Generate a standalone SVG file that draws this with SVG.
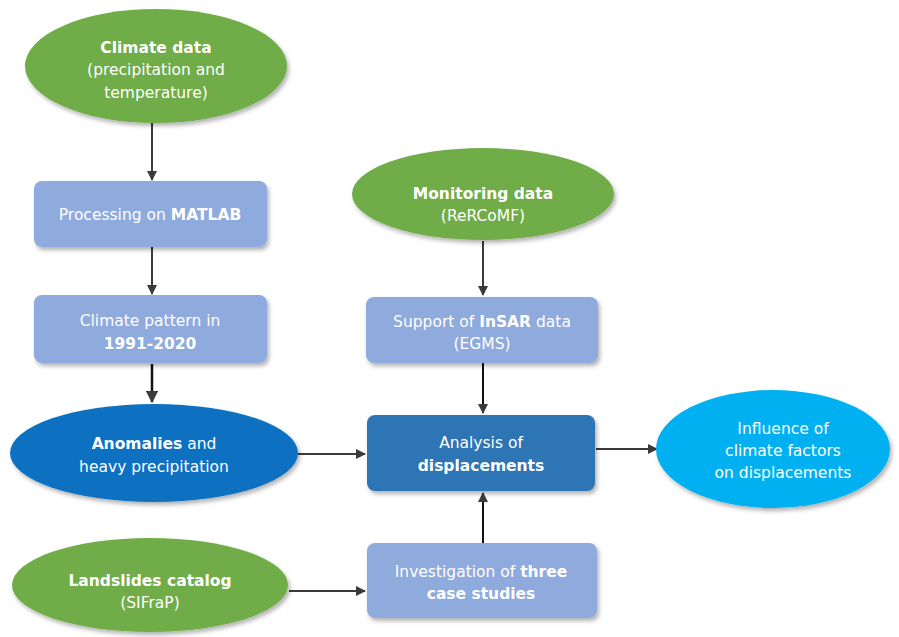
<svg xmlns="http://www.w3.org/2000/svg" width="899" height="637" viewBox="0 0 899 637">
<defs>
<marker id="ah" viewBox="0 0 10 10" refX="9" refY="5" markerWidth="5" markerHeight="5" orient="auto" markerUnits="strokeWidth">
<path d="M0,0 L10,5 L0,10 z" fill="#3a3a3a"/>
</marker>
<filter id="sh" x="-10%" y="-10%" width="125%" height="130%">
<feDropShadow dx="2" dy="3" stdDeviation="2" flood-color="#000" flood-opacity="0.3"/>
</filter>
</defs>
<style>
text{font-family:"DejaVu Sans","Liberation Sans",sans-serif;font-size:15.5px;fill:#fff;text-anchor:middle}
.b{font-weight:bold}
.green{fill:#6fac46}
.lb{fill:#8faadc}
.conn line{stroke:#3a3a3a;stroke-width:2;marker-end:url(#ah)}
</style>
<rect width="899" height="637" fill="#fff"/>
<g class="conn">
<line x1="152" y1="123" x2="152" y2="180"/>
<line x1="152" y1="247" x2="152" y2="294"/>
<line x1="152" y1="364" x2="152" y2="402" style="stroke-width:2.5;stroke:#111"/>
<line x1="483" y1="241" x2="483" y2="295"/>
<line x1="483" y1="363" x2="483" y2="413" style="stroke:#111"/>
<line x1="298" y1="454" x2="365" y2="454"/>
<line x1="596" y1="449" x2="657" y2="449"/>
<line x1="483" y1="543" x2="483" y2="493" style="stroke:#111"/>
<line x1="289" y1="591" x2="365" y2="591"/>
</g>
<g id="climate-data">
<ellipse cx="156" cy="66" rx="131" ry="57" class="green" filter="url(#sh)"/>
<text x="156" y="53" class="b">Climate data</text>
<text x="156" y="75">(precipitation and</text>
<text x="156" y="98">temperature)</text>
</g>
<g id="processing">
<rect x="34" y="181" width="233" height="66" rx="8" class="lb" filter="url(#sh)"/>
<text x="150" y="220">Processing on <tspan class="b">MATLAB</tspan></text>
</g>
<g id="climate-pattern">
<rect x="34" y="295" width="233" height="68" rx="8" class="lb" filter="url(#sh)"/>
<text x="150" y="326">Climate pattern in</text>
<text x="150" y="349" class="b">1991-2020</text>
</g>
<g id="monitoring-data">
<ellipse cx="483" cy="194" rx="131" ry="46" class="green" filter="url(#sh)"/>
<text x="483" y="199" class="b">Monitoring data</text>
<text x="483" y="221">(ReRCoMF)</text>
</g>
<g id="insar">
<rect x="366" y="297" width="232" height="66" rx="8" class="lb" filter="url(#sh)"/>
<text x="482" y="327">Support of <tspan class="b">InSAR</tspan> data</text>
<text x="482" y="349">(EGMS)</text>
</g>
<g id="anomalies">
<ellipse cx="154" cy="453" rx="144" ry="49" fill="#0b6fc0" filter="url(#sh)"/>
<text x="154" y="449"><tspan class="b">Anomalies</tspan> and</text>
<text x="154" y="472">heavy precipitation</text>
</g>
<g id="analysis">
<rect x="367" y="415" width="228" height="76" rx="8" fill="#2e74b5" filter="url(#sh)"/>
<text x="481" y="448">Analysis of</text>
<text x="481" y="471" class="b">displacements</text>
</g>
<g id="influence">
<ellipse cx="773" cy="449" rx="117" ry="59" fill="#00b0f0" filter="url(#sh)"/>
<text x="783" y="434">Influence of</text>
<text x="783" y="456">climate factors</text>
<text x="783" y="478">on displacements</text>
</g>
<g id="landslides">
<ellipse cx="150" cy="585" rx="138" ry="47" class="green" filter="url(#sh)"/>
<text x="150" y="586" class="b">Landslides catalog</text>
<text x="150" y="608">(SIFraP)</text>
</g>
<g id="case-studies">
<rect x="367" y="543" width="230" height="75" rx="8" class="lb" filter="url(#sh)"/>
<text x="481" y="577">Investigation of <tspan class="b">three</tspan></text>
<text x="481" y="599" class="b">case studies</text>
</g>
</svg>
